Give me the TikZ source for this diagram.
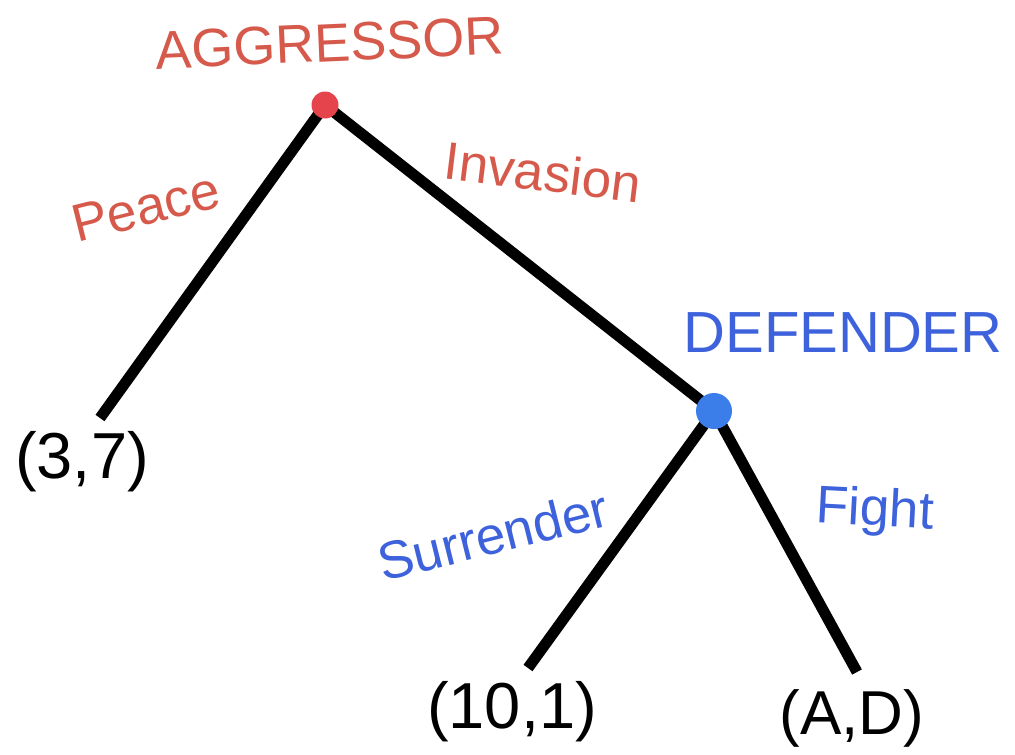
\documentclass[tikz,border=0pt]{standalone}
\usepackage{fontspec}
\setmainfont{Liberation Sans}
\definecolor{aggred}{HTML}{D65A4C}
\definecolor{aggdot}{HTML}{E5444C}
\definecolor{defblue}{HTML}{3D62DB}
\definecolor{defdot}{HTML}{3B7EEA}
\tikzset{
  branch/.style={line width=11pt, black},
  redlab/.style={text=aggred, inner sep=0pt, font=\fontsize{53}{60}\selectfont},
  bluelab/.style={text=defblue, inner sep=0pt, font=\fontsize{53}{60}\selectfont},
  payoff/.style={text=black, inner sep=0pt, font=\fontsize{65}{72}\selectfont},
  dotnode/.style={circle, inner sep=0pt, draw=none}
}
\begin{document}
\begin{tikzpicture}[x=1pt,y=-1pt]
\useasboundingbox (0,0) rectangle (1015,755);
% nodes
\coordinate (A) at (325,105);
\coordinate (D) at (714,411);
\coordinate (e1) at (100,418);
\coordinate (e2) at (528,668);
\coordinate (e3) at (857,672);
% branches
\draw[branch] (A) -- (e1);
\draw[branch] (A) -- (D);
\draw[branch] (D) -- (e2);
\draw[branch] (D) -- (e3);
% decision dots
\node[dotnode, fill=aggdot, minimum size=27pt] (agg) at (A) {};
\node[dotnode, fill=defdot, minimum size=36pt] (def) at (D) {};
% player labels
\node[redlab, font=\fontsize{54}{60}\selectfont, rotate=2.5] (aggname) at (330,43) {AGGRESSOR};
\node[bluelab, font=\fontsize{58}{64}\selectfont] (defname) at (843,333) {DEFENDER};
% action labels
\node[redlab, rotate=14] (peace) at (146,207) {Peace};
\node[redlab, rotate=-7] (inv) at (543,172) {Invasion};
\node[bluelab, rotate=14] (surr) at (493,535) {Surrender};
\node[bluelab, rotate=-3] (fight) at (875,512) {Fight};
% payoffs
\node[payoff] (p1) at (82,462) {(3,7)};
\node[payoff] (p2) at (512,712) {(10,1)};
\node[payoff, font=\fontsize{62}{70}\selectfont] (p3) at (852,718) {(A,D)};
\end{tikzpicture}
\end{document}
